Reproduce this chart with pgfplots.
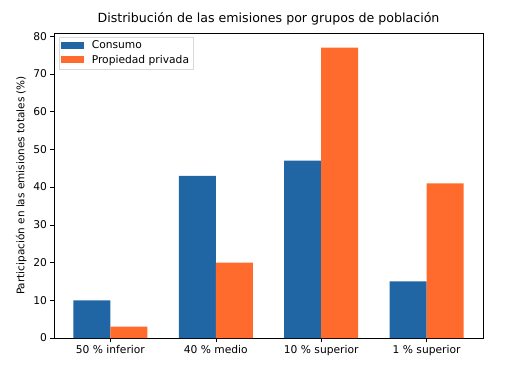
\documentclass[border=0pt]{standalone}
\usepackage{pgfplots}
\pgfplotsset{compat=1.18}
\usepackage{fontspec}
\setmainfont{DejaVu Sans}
\definecolor{cblue}{RGB}{32,102,164}
\definecolor{corange}{RGB}{255,107,45}
\begin{document}
\begin{tikzpicture}
\begin{axis}[
  scale only axis, width=429pt, height=305pt,
  xmin=-0.535, xmax=3.535, ymin=0, ymax=80.85,
  ybar=0pt, bar width=37pt,
  xtick={0,1,2,3},
  xticklabels={50 \% inferior, 40 \% medio, 10 \% superior, 1 \% superior},
  ytick={0,10,...,80},
  tick align=outside, tick pos=left,
  major tick length=3.5pt,
  tick style={black, line width=0.6pt},
  axis line style={line width=0.6pt},
  /pgf/number format/assume math mode=true,
  tick label style={font=\fontsize{10.7}{12}\selectfont},
  ylabel={Participación en las emisiones totales (\%)},
  ylabel style={font=\fontsize{10.5}{12}\selectfont},
  title={Distribución de las emisiones por grupos de población},
  title style={font=\fontsize{12.6}{14}\selectfont, yshift=-2pt},
  legend pos=north west,
  legend style={font=\fontsize{10.7}{12}\selectfont, draw=black!15, inner sep=2pt, row sep=1pt, at={(0.012,0.988)}},
  legend cell align=left,
  legend image code/.code={\fill[#1, sharp corners] (0cm,-0.11cm) rectangle (0.78cm,0.14cm); \path (1.0cm,0);},
]
\addplot[fill=cblue, draw=none] coordinates {(0,10) (1,43) (2,47) (3,15)};
\addplot[fill=corange, draw=none] coordinates {(0,3) (1,20) (2,77) (3,41)};
\legend{Consumo, Propiedad privada}
\end{axis}
\path (current axis.south west) ++(-54pt,-37pt) coordinate (bl);
\path (current axis.north east) ++(37pt,33pt) coordinate (tr);
\useasboundingbox (bl) rectangle (tr);
\end{tikzpicture}
\end{document}
